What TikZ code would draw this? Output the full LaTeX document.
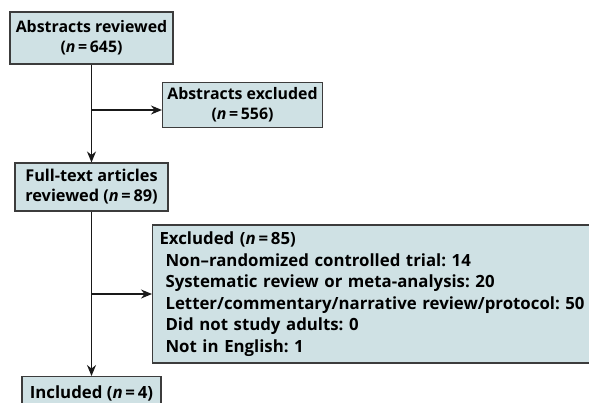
\documentclass[tikz,border=0pt]{standalone}
\usepackage{fontspec}
\setmainfont{Open Sans}
\usetikzlibrary{arrows.meta}
\definecolor{boxfill}{RGB}{207,225,228}
\definecolor{boxline}{RGB}{60,60,60}
\begin{document}
\frenchspacing
\begin{tikzpicture}[x=1pt,y=-1pt,
  box/.style={draw=boxline, line width=1.1pt, fill=boxfill, inner sep=0pt, align=center,
    font=\fontsize{15.9}{20}\selectfont\bfseries, text=black},
  arr/.style={draw=black!90, line width=1.2pt, -{Stealth[length=11pt,width=9pt]}}]
\useasboundingbox (0,0) rectangle (589,402);
\clip (0,0) rectangle (589,402);
\node[box, minimum width=163pt, minimum height=52pt] (b1) at (91.5,38) {Abstracts reviewed\\(\textit{n}\,=\,645)};
\node[box, minimum width=160pt, minimum height=45pt] (b2) at (242.5,105) {Abstracts excluded\\(\textit{n}\,=\,556)};
\node[box, minimum width=153pt, minimum height=48pt, font=\fontsize{16.3}{20}\selectfont\bfseries] (b3) at (91.5,187) {Full-text articles\\reviewed (\textit{n}\,=\,89)};
\node[box, minimum width=460pt, minimum height=138pt, anchor=west, align=left, text width=446pt, inner xsep=7pt,
  font=\fontsize{16.8}{21.5}\selectfont\bfseries] (b4) at (152,294)
  {Excluded (\textit{n}\,=\,85)\\
   \hspace*{6pt}Non--randomized controlled trial: 14\\
   \hspace*{6pt}Systematic review or meta-analysis: 20\\
   \hspace*{6pt}Letter/commentary/narrative review/protocol: 50\\
   \hspace*{6pt}Did not study adults: 0\\
   \hspace*{6pt}Not in English: 1};
\node[box, minimum width=139pt, minimum height=40pt, anchor=north, font=\fontsize{16.8}{20}\selectfont\bfseries] (b5) at (91.5,376) {\raisebox{9pt}{Included (\textit{n}\,=\,4)}};
\coordinate (j1) at (91.5,110);
\coordinate (j2) at (91.5,294);
\draw[arr] (b1.south) -- (b3.north);
\draw[arr] (j1) -- (j1 -| b2.west);
\draw[arr] (b3.south) -- (b5.north);
\draw[arr] (j2) -- (j2 -| b4.west);
\end{tikzpicture}
\end{document}
